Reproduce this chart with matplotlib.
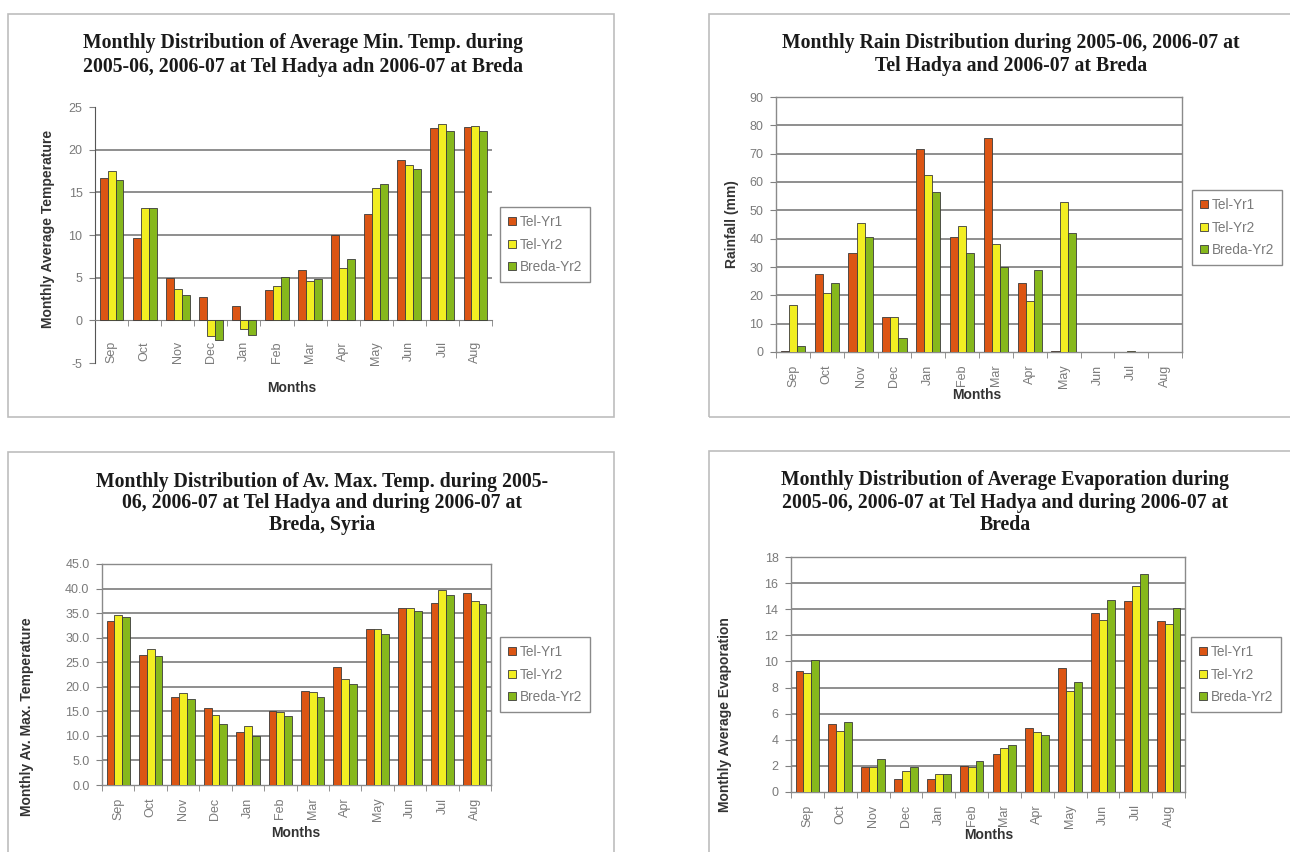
import matplotlib
matplotlib.use("Agg")
import matplotlib.pyplot as plt
from matplotlib.patches import Patch, Rectangle
import numpy as np

# ---- data -----------------------------------------------------------------
months = ["Sep", "Oct", "Nov", "Dec", "Jan", "Feb", "Mar", "Apr", "May", "Jun", "Jul", "Aug"]
series_names = ["Tel-Yr1", "Tel-Yr2", "Breda-Yr2"]

# Average minimum temperature (deg C)
tmin_tel_yr1 = [16.7, 9.6, 5.0, 2.7, 1.7, 3.5, 5.9, 10.0, 12.5, 18.8, 22.5, 22.7]
tmin_tel_yr2 = [17.5, 13.2, 3.7, -1.8, -1.0, 4.0, 4.6, 6.1, 15.5, 18.2, 23.0, 22.8]
tmin_breda_yr2 = [16.4, 13.2, 3.0, -2.3, -1.7, 5.1, 4.8, 7.2, 16.0, 17.7, 22.2, 22.2]

# Monthly rainfall (mm)
rain_tel_yr1 = [0.5, 27.5, 35.0, 12.5, 71.5, 40.5, 75.5, 24.5, 0.5, 0.0, 0.0, 0.0]
rain_tel_yr2 = [16.5, 21.0, 45.5, 12.5, 62.5, 44.5, 38.0, 18.0, 53.0, 0.0, 0.4, 0.0]
rain_breda_yr2 = [2.0, 24.5, 40.5, 5.0, 56.5, 35.0, 30.0, 29.0, 42.0, 0.0, 0.0, 0.0]

# Average maximum temperature (deg C)
tmax_tel_yr1 = [33.3, 26.5, 18.0, 15.7, 10.8, 15.0, 19.2, 24.0, 31.8, 36.0, 37.0, 39.0]
tmax_tel_yr2 = [34.6, 27.6, 18.8, 14.2, 12.0, 14.8, 19.0, 21.6, 31.8, 36.0, 39.8, 37.5]
tmax_breda_yr2 = [34.2, 26.2, 17.6, 12.4, 10.0, 14.0, 18.0, 20.6, 30.8, 35.4, 38.7, 36.8]

# Average evaporation
evap_tel_yr1 = [9.3, 5.2, 1.9, 1.0, 1.0, 2.0, 2.9, 4.9, 9.5, 13.7, 14.6, 13.1]
evap_tel_yr2 = [9.1, 4.7, 1.9, 1.6, 1.4, 1.9, 3.4, 4.6, 7.7, 13.2, 15.8, 12.9]
evap_breda_yr2 = [10.1, 5.4, 2.5, 1.9, 1.4, 2.4, 3.6, 4.4, 8.4, 14.7, 16.7, 14.1]

# ---- styling ----------------------------------------------------------------
W, H = 1290, 852
colors = ["#DC5514", "#F2EE22", "#86B81C"]
edge = "#3A3A3A"
tick_gray = "#7A7A7A"
grid_gray = "#707070"
serif = "Liberation Serif"
sans = "Liberation Sans"

fig = plt.figure(figsize=(W / 100, H / 100), dpi=100)
fig.patch.set_facecolor("white")


def px_box(x0, y0, x1, y1):
    """Pixel box (top-left origin) -> figure fraction [l, b, w, h]."""
    return [x0 / W, 1 - y1 / H, (x1 - x0) / W, (y1 - y0) / H]


def frame(x0, y0, x1, y1):
    l, b, w, h = px_box(x0, y0, x1, y1)
    fig.add_artist(Rectangle((l, b), w, h, transform=fig.transFigure,
                             fill=False, edgecolor="#BDBDBD", linewidth=1.2))


def panel(box, data, ylim, ystep, yfmt, title_lines, title_x, title_ys,
          ylabel, ylabel_xy, xlabel_xy, legend_xy, boxed=True, xpad=9):
    ax = fig.add_axes(px_box(*box))
    ax.set_facecolor("white")
    if boxed:
        for s in ax.spines.values():
            s.set_color("#8A8A8A")
            s.set_linewidth(1.0)
    else:
        ax.spines["top"].set_visible(False)
        ax.spines["right"].set_visible(False)
        ax.spines["bottom"].set_position(("data", 0))
        ax.spines["left"].set_color("#555555")
        ax.spines["bottom"].set_color("#808080")

    x = np.arange(len(months))
    bw = 0.24
    for i, (vals, c, name) in enumerate(zip(data, colors, series_names)):
        ax.bar(x + (i - 1) * bw, vals, width=bw, color=c, edgecolor=edge,
               linewidth=0.6, label=name, zorder=3)
    ax.set_xlim(-0.5, len(months) - 0.5)
    ax.set_ylim(*ylim)
    yt = np.arange(ylim[0], ylim[1] + ystep / 2, ystep)
    ax.set_yticks(yt)
    ax.set_yticklabels([yfmt.format(v) for v in yt], fontsize=9,
                       color=tick_gray, family=sans)
    ax.set_xticks(x)
    ax.set_xticklabels(months, rotation=90, fontsize=9, color=tick_gray,
                       family=sans)
    ax.set_xticks(np.arange(-0.5, len(months)), minor=True)
    ax.tick_params(axis="x", which="major", length=0, pad=xpad)
    ax.tick_params(axis="x", which="minor", length=4, color="#808080",
                   direction="out")
    ax.tick_params(axis="y", length=4, color="#808080", direction="out", pad=5)

    for v in yt:
        if (boxed and ylim[0] < v < ylim[1]) or (not boxed and 0 < v < ylim[1]):
            ax.axhline(v, color=grid_gray, linewidth=1.1, zorder=1)

    for line, ty in zip(title_lines, title_ys):
        fig.text(title_x / W, 1 - ty / H, line, ha="center", va="center",
                 family=serif, fontweight="bold", fontsize=14.2,
                 color="#1A1A1A")
    fig.text(ylabel_xy[0] / W, 1 - ylabel_xy[1] / H, ylabel, rotation=90,
             ha="center", va="center", family=sans, fontweight="bold",
             fontsize=10, color="#333333")
    fig.text(xlabel_xy[0] / W, 1 - xlabel_xy[1] / H, "Months", ha="center",
             va="center", family=sans, fontweight="bold", fontsize=10,
             color="#333333")

    handles = [Patch(facecolor=c, edgecolor=edge, linewidth=0.6) for c in colors]
    leg = ax.legend(handles, series_names, loc="upper left",
                    bbox_to_anchor=(legend_xy[0] / W, 1 - legend_xy[1] / H),
                    bbox_transform=fig.transFigure, fancybox=False,
                    edgecolor="#8A8A8A", fontsize=9.8, handlelength=0.55,
                    handleheight=0.55, handletextpad=0.3, labelspacing=0.62,
                    borderpad=0.6, borderaxespad=0, framealpha=1)
    leg.get_frame().set_linewidth(1.0)
    for t in leg.get_texts():
        t.set_color(tick_gray)
        t.set_family(sans)
    return ax


# chart borders
frame(8, 14, 614, 417)
frame(709, 14, 1300, 417)
frame(8, 452, 614, 870)
frame(709, 451, 1300, 870)

panel((95, 107, 492, 363), [tmin_tel_yr1, tmin_tel_yr2, tmin_breda_yr2],
      (-5, 25), 5, "{:.0f}",
      ["Monthly Distribution of Average Min. Temp. during",
       "2005-06, 2006-07 at Tel Hadya adn 2006-07 at Breda"],
      303, [43, 67], "Monthly Average Temperature", (48, 229), (292, 388),
      (500, 207), boxed=False, xpad=15)

panel((776, 97, 1182, 352), [rain_tel_yr1, rain_tel_yr2, rain_breda_yr2],
      (0, 90), 10, "{:.0f}",
      ["Monthly Rain Distribution during 2005-06, 2006-07 at",
       "Tel Hadya and 2006-07 at Breda"],
      1011, [43, 66], "Rainfall (mm)", (732, 224), (977, 395),
      (1192, 190))

panel((102, 564, 491, 785), [tmax_tel_yr1, tmax_tel_yr2, tmax_breda_yr2],
      (0, 45), 5, "{:.1f}",
      ["Monthly Distribution of Av. Max. Temp. during 2005-",
       "06, 2006-07 at Tel Hadya and during 2006-07 at",
       "Breda, Syria"],
      322, [482, 503, 525], "Monthly Av. Max. Temperature", (27, 717),
      (296, 833), (500, 637))

panel((791, 557, 1185, 792), [evap_tel_yr1, evap_tel_yr2, evap_breda_yr2],
      (0, 18), 2, "{:.0f}",
      ["Monthly Distribution of Average Evaporation during",
       "2005-06, 2006-07 at Tel Hadya and during 2006-07 at",
       "Breda"],
      1005, [480, 503, 525], "Monthly Average Evaporation", (725, 715),
      (989, 835), (1191, 637))

fig.savefig("out.png", dpi=100, facecolor="white")
